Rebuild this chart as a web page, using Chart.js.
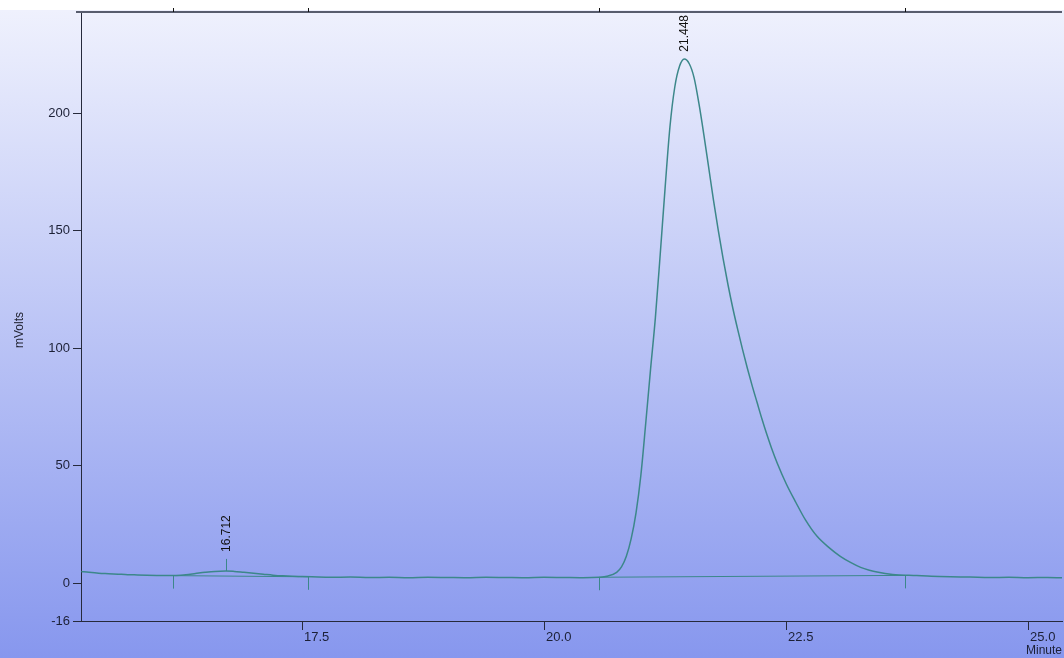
<!DOCTYPE html>
<html>
<head>
<meta charset="utf-8">
<title>Chromatogram</title>
<script src="https://cdn.jsdelivr.net/npm/chart.js@4.4.1/dist/chart.umd.min.js"></script>
<style>
  html, body {
    margin: 0;
    padding: 0;
  }
  body {
    width: 1064px;
    height: 658px;
    overflow: hidden;
    background: linear-gradient(to bottom, #ffffff 0px, #ffffff 10px, #eff1fd 10px, #8797ee 658px);
  }
  #chromChart {
    display: block;
  }
</style>
</head>
<body>
<canvas id="chromChart" width="1064" height="658"></canvas>
<script>
  // retention time (minutes) and detector signal (mV)
  const times = [
    15.22, 15.3, 15.4, 15.5, 15.6, 15.7, 15.8, 15.9, 16.0, 16.1,
    16.2, 16.3, 16.4, 16.5, 16.6, 16.712, 16.8, 16.9, 17.0, 17.1,
    17.2, 17.3, 17.4, 17.5, 17.6, 17.8, 18.0, 18.2, 18.4, 18.6,
    18.8, 19.0, 19.2, 19.4, 19.6, 19.8, 20.0, 20.2, 20.4, 20.568,
    20.65, 20.75, 20.8, 20.85, 20.9, 20.95, 21.0, 21.05, 21.1, 21.15,
    21.2, 21.25, 21.3, 21.35, 21.4, 21.448, 21.5, 21.55, 21.6, 21.65,
    21.7, 21.75, 21.8, 21.85, 21.9, 21.95, 22.0, 22.05, 22.1, 22.15,
    22.2, 22.25, 22.3, 22.35, 22.41, 22.5, 22.6, 22.7, 22.82, 22.95,
    23.06, 23.17, 23.27, 23.36, 23.44, 23.6, 23.85, 24.0, 24.2, 24.4,
    24.6, 24.8, 25.0, 25.2, 25.35
  ];
  const mvolts = [
    5.1, 4.7, 4.3, 4.1, 3.9, 3.7, 3.6, 3.5, 3.4, 3.3,
    3.4, 3.7, 4.2, 4.7, 5.1, 5.3, 5.1, 4.7, 4.3, 3.9,
    3.5, 3.2, 3.0, 2.9, 2.8, 2.6, 2.7, 2.5, 2.6, 2.4,
    2.6, 2.5, 2.4, 2.6, 2.5, 2.4, 2.6, 2.5, 2.4, 2.6,
    3.0, 4.7, 7.0, 11.5, 19, 30, 46, 68, 91, 113,
    140, 168, 194, 211, 220, 223, 221, 215, 204, 191,
    177, 163, 150, 138, 127, 117, 108, 99.5, 91.5, 84,
    77, 70, 63.5, 57.5, 51, 42.5, 34.5, 27, 20, 15,
    11.5, 8.8, 6.8, 5.6, 4.8, 3.8, 3.3, 3.0, 2.8, 2.7,
    2.5, 2.6, 2.4, 2.5, 2.4
  ];

  // integration events (peak start / end) and the baseline level there
  const eventTimes = [16.167, 17.562, 20.568, 23.73];
  const eventLevels = [3.3, 2.8, 2.6, 3.4];

  // labelled peaks
  const peakTimes = [16.712, 21.448];
  const peakHeights = [5.3, 223];
  const peakLabels = ['16.712', '21.448'];

  const xTicks = [17.5, 20.0, 22.5, 25.0];
  const yTicks = [-16, 0, 50, 100, 150, 200];

  const traceColor = '#3c878a';
  const axisColor = '#262a3c';
  const labelColor = '#1c2036';

  Chart.defaults.font.family = '"Liberation Sans", Arial, sans-serif';

  const signal = times.map((t, i) => ({ x: t, y: mvolts[i] }));
  const baseLine1 = [
    { x: eventTimes[0], y: eventLevels[0] },
    { x: eventTimes[1], y: eventLevels[1] }
  ];
  const baseLine2 = [
    { x: eventTimes[2], y: eventLevels[2] },
    { x: eventTimes[3], y: eventLevels[3] }
  ];

  // frame, event ticks, peak labels, y title
  const peakMarks = {
    id: 'peakMarks',
    afterDraw(chart) {
      const { ctx, chartArea } = chart;
      const xs = chart.scales.x;
      const ys = chart.scales.y;
      ctx.save();

      // top frame line
      ctx.strokeStyle = '#585d6e';
      ctx.lineWidth = 2;
      ctx.beginPath();
      ctx.moveTo(chartArea.left - 5, chartArea.top);
      ctx.lineTo(chartArea.right, chartArea.top);
      ctx.stroke();

      // event ticks on baseline and on the top frame
      ctx.lineWidth = 1;
      eventTimes.forEach((t, i) => {
        const px = Math.round(xs.getPixelForValue(t)) + 0.5;
        const py = ys.getPixelForValue(eventLevels[i]);
        ctx.strokeStyle = traceColor;
        ctx.beginPath();
        ctx.moveTo(px, py);
        ctx.lineTo(px, py + 13);
        ctx.stroke();
        ctx.strokeStyle = '#111111';
        ctx.beginPath();
        ctx.moveTo(px, chartArea.top - 4);
        ctx.lineTo(px, chartArea.top);
        ctx.stroke();
      });

      // peak retention time labels
      ctx.font = '12px "Liberation Sans", Arial, sans-serif';
      ctx.fillStyle = '#111111';
      ctx.textAlign = 'left';
      ctx.textBaseline = 'middle';
      peakTimes.forEach((t, i) => {
        const px = Math.round(xs.getPixelForValue(t)) + 0.5;
        const py = ys.getPixelForValue(peakHeights[i]);
        const w = ctx.measureText(peakLabels[i]).width;
        let start = py - 19;
        let clamped = false;
        if (start - w < chartArea.top + 3) {
          start = chartArea.top + 3 + w;
          clamped = true;
        }
        if (!clamped) {
          ctx.strokeStyle = traceColor;
          ctx.beginPath();
          ctx.moveTo(px, py - 12);
          ctx.lineTo(px, py);
          ctx.stroke();
        }
        ctx.save();
        ctx.translate(px, start);
        ctx.rotate(-Math.PI / 2);
        ctx.fillText(peakLabels[i], 0, 0);
        ctx.restore();
      });

      // y axis title
      ctx.save();
      ctx.translate(20, 330);
      ctx.rotate(-Math.PI / 2);
      ctx.textAlign = 'center';
      ctx.fillStyle = '#222433';
      ctx.fillText('mVolts', 0, 0);
      ctx.restore();

      ctx.restore();
    }
  };

  const chromChart = new Chart(document.getElementById('chromChart'), {
    type: 'scatter',
    data: {
      datasets: [
        {
          data: signal,
          showLine: true,
          borderColor: traceColor,
          borderWidth: 1.5,
          pointRadius: 0,
          cubicInterpolationMode: 'monotone'
        },
        {
          data: baseLine1,
          showLine: true,
          borderColor: traceColor,
          borderWidth: 1,
          pointRadius: 0
        },
        {
          data: baseLine2,
          showLine: true,
          borderColor: traceColor,
          borderWidth: 1,
          pointRadius: 0
        }
      ]
    },
    options: {
      responsive: false,
      animation: false,
      layout: { padding: { top: 12, right: 2, left: 0, bottom: 0 } },
      plugins: {
        legend: { display: false },
        tooltip: { enabled: false }
      },
      scales: {
        x: {
          type: 'linear',
          min: 15.217,
          max: 25.35,
          afterBuildTicks: (s) => { s.ticks = xTicks.map(v => ({ value: v })); },
          afterFit: (s) => { s.height = 37; },
          ticks: {
            align: 'start',
            labelOffset: 2,
            padding: 0,
            maxRotation: 0,
            autoSkip: false,
            color: labelColor,
            font: { size: 13 },
            callback: (v) => Number(v).toFixed(1)
          },
          grid: { drawOnChartArea: false, tickLength: 9, color: axisColor },
          border: { color: axisColor, width: 1 },
          title: {
            display: true,
            text: 'Minute',
            align: 'end',
            color: labelColor,
            font: { size: 12 },
            padding: { top: 0, bottom: 0 }
          }
        },
        y: {
          min: -16,
          max: 243,
          afterBuildTicks: (s) => { s.ticks = yTicks.map(v => ({ value: v })); },
          afterFit: (s) => { s.width = 81; },
          ticks: {
            padding: 3,
            color: labelColor,
            font: { size: 13 },
            callback: (v) => String(v)
          },
          grid: { drawOnChartArea: false, tickLength: 8, color: axisColor },
          border: { color: axisColor, width: 1 }
        }
      }
    },
    plugins: [peakMarks]
  });
</script>
</body>
</html>
